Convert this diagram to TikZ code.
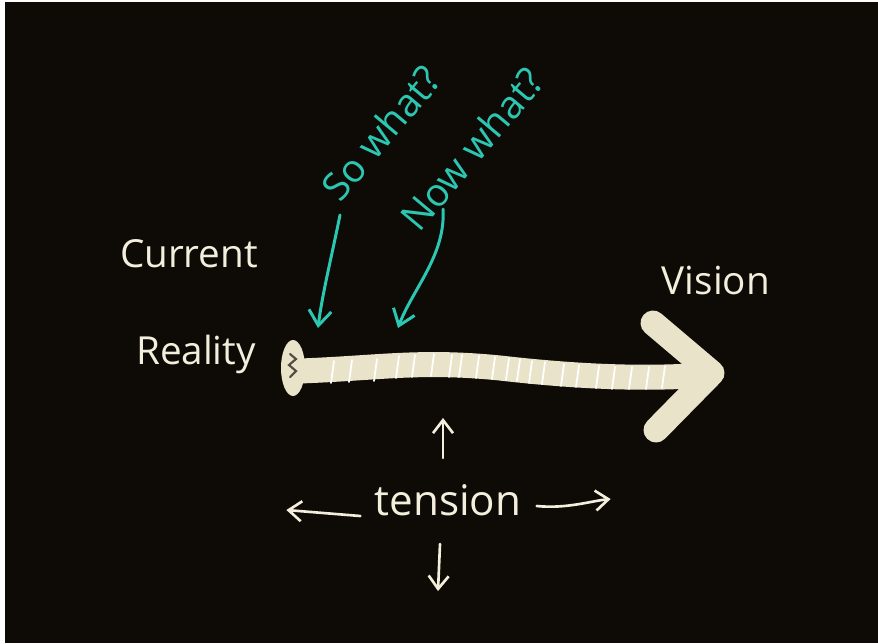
\documentclass[tikz,border=0pt]{standalone}
\usepackage{fontspec}
\setmainfont{Open Sans}
\usetikzlibrary{arrows.meta,positioning}

\definecolor{board}{HTML}{0E0B07}
\definecolor{chalk}{HTML}{E9E3CA}
\definecolor{ink}{HTML}{F4EFDD}
\definecolor{teal}{HTML}{2CC7B2}

\begin{document}
\begin{tikzpicture}[x=0.02cm, y=-0.02cm,
    % handwritten labels
    word/.style={text=ink, font=\fontsize{22}{24}\selectfont, inner sep=0pt},
    question/.style={text=teal, font=\fontsize{22}{24}\selectfont, inner sep=0pt, rotate=50},
    % connectors
    pointer/.style={draw=teal, line width=1.7pt, line cap=round, -{Straight Barb[length=3mm,width=4.5mm]}},
    pull/.style={draw=ink, line width=1.5pt, line cap=round, -{Straight Barb[length=2.6mm,width=4mm]}},
    shaft/.style={draw=chalk, line width=0.5cm, line cap=round, line join=round},
    tick/.style={draw=white, line width=1pt, line cap=round}
]

% Board
\fill[white] (0,0) rectangle (878,643);
\fill[board] (5,2) rectangle (878,643);
\useasboundingbox (0,0) rectangle (878,643);

% Labels
\node[word] (current) at (189,254) {Current};
\node[word] (reality) at (196,354) {Reality};
\node[word] (vision) at (716,280) {Vision};

\node[question] (sowhat) at (381,133) {So what?};
\node[question] (nowwhat) at (472,149) {Now what?};

% Chalk arrow
\draw[shaft] (300,371) .. controls (380,368) and (420,360) .. (500,368)
    .. controls (570,376) and (640,380) .. (706,375);
\draw[shaft] (653,323) -- (712,373) -- (656,430);
\fill[chalk] (293,368) ellipse [x radius=12, y radius=28];
\draw[board!70!chalk, line width=1.2pt, line cap=round]
    (290,354) -- (296,359) -- (289,365) -- (296,371) -- (290,377);

% Marks on the shaft
\foreach \tx/\ty in {332/372, 350/371, 375/370, 397/367, 413/366, 432/365,
    450/366, 460/366, 477/367, 493/368, 507/369, 518/370, 530/372, 543/373,
    562/375, 577/376, 597/377, 613/378, 630/378, 647/378, 663/377}
  \draw[tick] (\tx+2,\ty-11) -- (\tx-1,\ty+11);

% Where the questions point
\coordinate (sostart) at (340,215);
\coordinate (nowstart) at (443,209);
\coordinate (sohit) at (318,328);
\coordinate (nowhit) at (398,328);
\draw[pointer] (sostart) .. controls (332,255) and (322,295) .. (sohit);
\draw[pointer] (nowstart) .. controls (446,255) and (412,290) .. (nowhit);

% Tension
\node[word, font=\fontsize{24}{26}\selectfont] (tension) at (448,500) {tension};
\draw[pull] (tension.north) ++(-5,-26) coordinate (upstart) -- ++(0,-40);
\draw[pull] (tension.south) ++(-8,28) coordinate (downstart) -- ++(-2,47);
\draw[pull] (tension.west) ++(-14,16) coordinate (leftstart) -- ++(-74,-6);
\draw[pull] (tension.east) ++(15,6) coordinate (rightstart)
    .. controls ++(30,3) and ++(-20,2) .. ++(74,-7);

\end{tikzpicture}
\end{document}
